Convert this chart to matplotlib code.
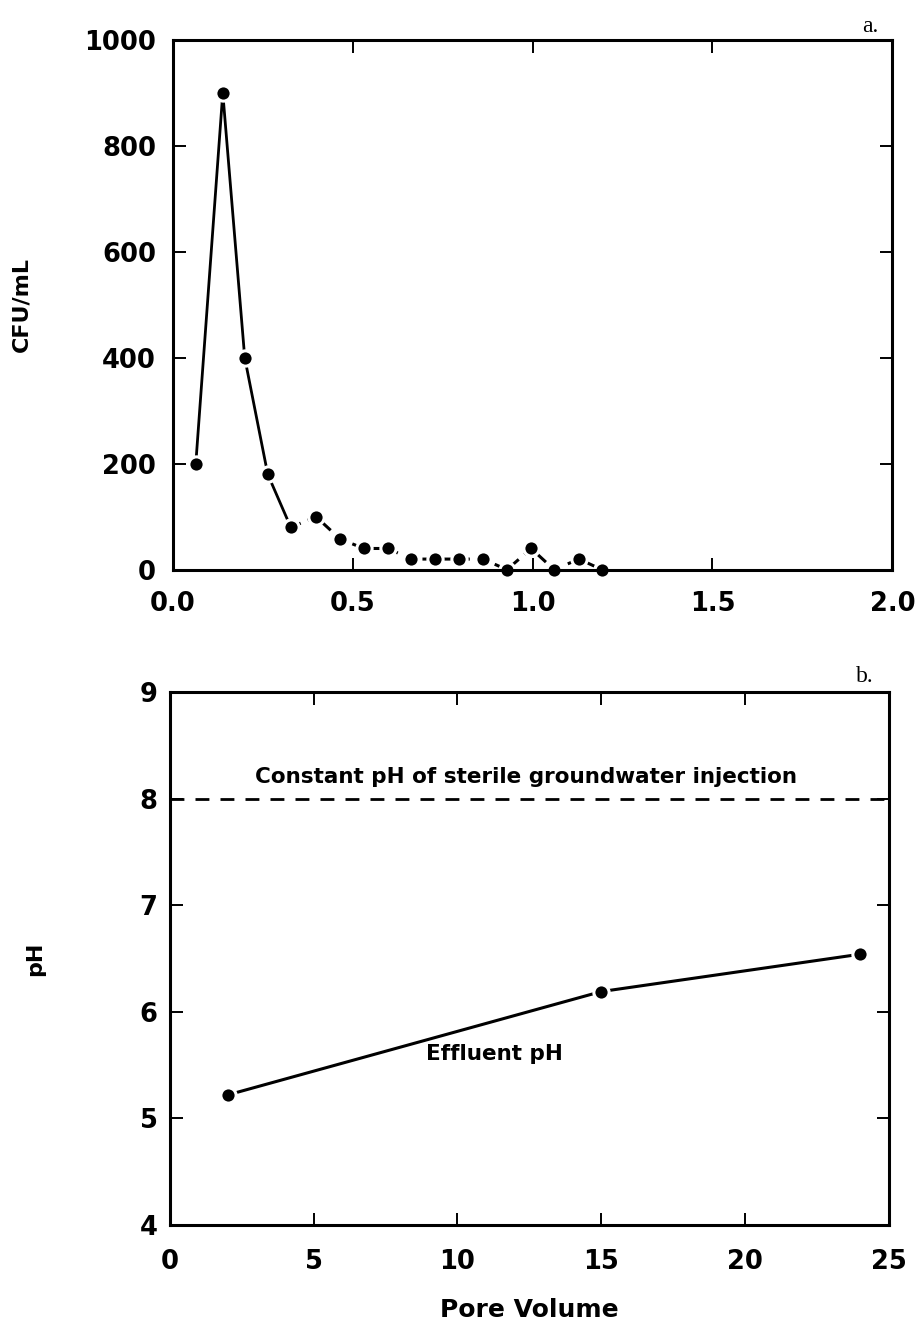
import matplotlib

matplotlib.use("Agg")
import matplotlib.pyplot as plt

# panel a: bacterial breakthrough
pore_vol_a = [0.064, 0.139, 0.20, 0.264, 0.328, 0.398, 0.465, 0.531, 0.598,
              0.662, 0.729, 0.796, 0.862, 0.929, 0.996, 1.06, 1.129, 1.193]
cfu = [200, 900, 400, 180, 80, 100, 58, 40, 40, 20, 20, 20, 20, 0, 40, 0, 20, 0]
n_solid = 5  # first points joined by a solid curve, the rest dashed

# panel b: effluent pH
pore_vol_b = [2.0, 15.0, 24.0]
effluent_ph = [5.22, 6.19, 6.54]
injection_ph = 8.0

plt.rcParams["font.family"] = ["DejaVu Sans"]
plt.rcParams["font.weight"] = "bold"

fig = plt.figure(figsize=(9.19, 13.31), dpi=100)
ax_a = fig.add_axes([0.188, 0.572, 0.783, 0.398])
ax_b = fig.add_axes([0.185, 0.0796, 0.782, 0.4005])

mk = dict(marker="o", markersize=11, markerfacecolor="black",
          markeredgecolor="white", markeredgewidth=2.2, clip_on=False)

# solid then dashed
ax_a.plot(pore_vol_a[:n_solid], cfu[:n_solid], color="black", lw=2.0, **mk)
ax_a.plot(pore_vol_a[n_solid - 1:], cfu[n_solid - 1:], color="black", lw=2.2,
          linestyle=(0, (3.5, 2.5)), **mk)
ax_a.set_xlim(0, 2.0)
ax_a.set_ylim(0, 1000)
ax_a.set_xticks([0.0, 0.5, 1.0, 1.5, 2.0])
ax_a.set_xticklabels(["0.0", "0.5", "1.0", "1.5", "2.0"])
ax_a.set_yticks([0, 200, 400, 600, 800, 1000])
ax_a.set_ylabel("CFU/mL", fontsize=16, fontweight="bold", labelpad=38)
ax_a.text(0.958, 1.005, "a.", transform=ax_a.transAxes, fontsize=17,
          family="Liberation Serif", fontweight="normal", ha="left", va="bottom")

ax_b.axhline(injection_ph, color="black", lw=2.0, linestyle=(0, (5, 4)))
ax_b.plot(pore_vol_b, effluent_ph, color="black", lw=2.2, **mk)
ax_b.set_xlim(0, 25)
ax_b.set_ylim(4, 9)
ax_b.set_xticks([0, 5, 10, 15, 20, 25])
ax_b.set_yticks([4, 5, 6, 7, 8, 9])
ax_b.set_xlabel("Pore Volume", fontsize=18, fontweight="bold", labelpad=17)
ax_b.set_ylabel("pH", fontsize=16, fontweight="bold", labelpad=68)
ax_b.text(12.4, 8.11, "Constant pH of sterile groundwater injection",
          fontsize=15.5, fontweight="bold", ha="center", va="bottom")
ax_b.text(11.3, 5.6, "Effluent pH", fontsize=15.5, fontweight="bold",
          ha="center", va="center")
ax_b.text(0.955, 1.01, "b.", transform=ax_b.transAxes, fontsize=17,
          family="Liberation Serif", fontweight="normal", ha="left", va="bottom")

for ax in (ax_a, ax_b):
    for sp in ax.spines.values():
        sp.set_linewidth(2.2)
    ax.tick_params(direction="in", length=9, width=1.4, top=True, right=True,
                   labelsize=18.5)
    for lbl in ax.get_xticklabels() + ax.get_yticklabels():
        lbl.set_fontweight("bold")

ax_a.tick_params(axis="x", pad=15)
ax_a.tick_params(axis="y", pad=12)
ax_b.tick_params(axis="x", pad=17)
ax_b.tick_params(axis="y", pad=9)

fig.savefig("out.png", dpi=100)
